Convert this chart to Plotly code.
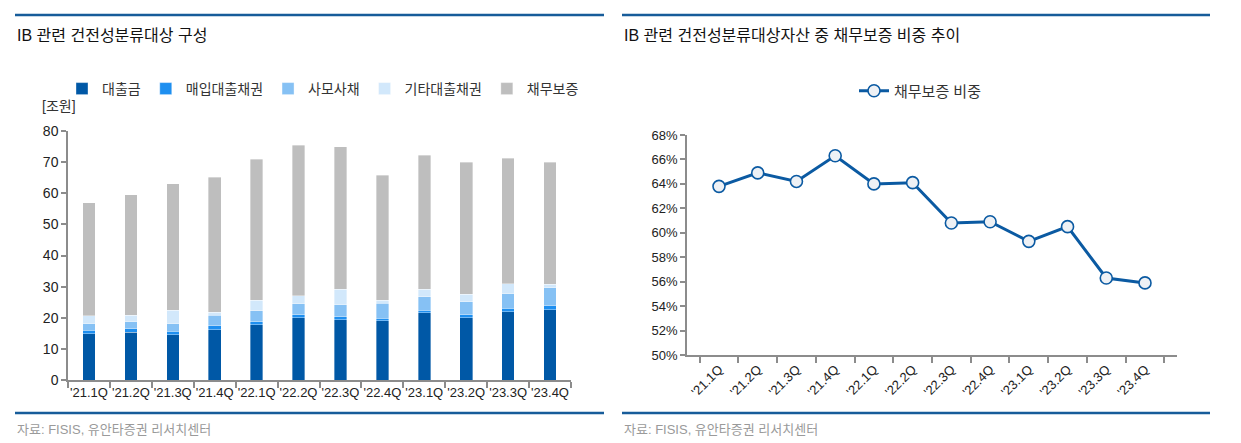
import plotly.graph_objects as go

W, H = 1241, 443
OX, OY = 8, 8          # default page body margin of the written html
FW, FH = W - 16, H - 8

quarters = ["'21.1Q", "'21.2Q", "'21.3Q", "'21.4Q", "'22.1Q", "'22.2Q",
            "'22.3Q", "'22.4Q", "'23.1Q", "'23.2Q", "'23.3Q", "'23.4Q"]

loans = [14.8, 15.4, 14.5, 16.1, 17.8, 20.0, 19.3, 19.0, 21.6, 20.0, 21.9, 22.5]
purchased = [1.2, 1.0, 1.2, 1.3, 0.9, 1.0, 1.0, 0.8, 0.8, 0.9, 1.1, 1.3]
private_bonds = [2.0, 2.3, 2.3, 3.4, 3.6, 3.5, 3.9, 4.8, 4.4, 4.2, 4.7, 5.9]
other_loans = [2.7, 2.1, 4.4, 1.0, 3.3, 2.5, 4.9, 1.0, 2.3, 2.5, 3.3, 1.0]
guarantees = [36.3, 38.7, 40.6, 43.4, 45.4, 48.5, 45.9, 40.2, 43.1, 42.4, 40.2, 39.3]

guarantee_share = [63.8, 64.9, 64.2, 66.3, 64.0, 64.1, 60.8, 60.9, 59.3, 60.5, 56.3, 55.9]

series = [
    ("대출금", loans, "#0058A6"),
    ("매입대출채권", purchased, "#1E8FF0"),
    ("사모사채", private_bonds, "#86C1F4"),
    ("기타대출채권", other_loans, "#D2E8FB"),
    ("채무보증", guarantees, "#BEBEBE"),
]

NUM_FONT = "Liberation Sans, Arial, Noto Sans CJK KR, sans-serif"
KR_FONT = "Liberation Sans, Noto Sans CJK KR, sans-serif"

fig = go.Figure()

for name, vals, color in series:
    fig.add_trace(go.Bar(
        x=quarters, y=vals, name=name,
        marker=dict(color=color, line=dict(color="rgba(255,255,255,0.6)", width=0.6)),
        xaxis="x", yaxis="y", legend="legend",
    ))

fig.add_trace(go.Scatter(
    x=quarters, y=guarantee_share, name="채무보증 비중",
    mode="lines+markers",
    line=dict(color="#0B5AA2", width=3),
    marker=dict(size=12, color="#EEF1F5", line=dict(color="#0B5AA2", width=1.6)),
    xaxis="x2", yaxis="y2", legend="legend2",
))

def px_x(v):
    return (v - OX) / FW

def px_y(v):
    return 1 - (v - OY) / FH

axis_color = "#8C8C8C"

fig.update_layout(
    width=FW, height=FH,
    margin=dict(l=0, r=0, t=0, b=0, autoexpand=False),
    paper_bgcolor="white", plot_bgcolor="white",
    barmode="stack", bargap=0.7,
    font=dict(family=NUM_FONT, color="#222222", size=14),
    xaxis=dict(
        domain=[px_x(68), px_x(571)], type="category", automargin=False,
        showline=True, linecolor=axis_color, linewidth=1.5,
        ticks="outside", tickson="boundaries", ticklen=6, tickcolor=axis_color, tickwidth=1.5,
        showgrid=False, tickangle=0,
        tickfont=dict(size=13, family=NUM_FONT, color="#222222"),
        anchor="y",
    ),
    yaxis=dict(
        domain=[px_y(380), px_y(131)], range=[0, 80], dtick=10, automargin=False,
        showline=True, linecolor=axis_color, linewidth=1.5,
        ticks="outside", ticklen=5, tickcolor=axis_color, tickwidth=1.5,
        showgrid=False, zeroline=False,
        tickfont=dict(size=14, family=NUM_FONT, color="#222222"),
        anchor="x",
    ),
    xaxis2=dict(
        domain=[px_x(687), px_x(1177)], type="category", automargin=False,
        showline=True, linecolor=axis_color, linewidth=1.5,
        ticks="outside", tickson="boundaries", ticklen=6, tickcolor=axis_color, tickwidth=1.5,
        showgrid=False, tickangle=-45,
        tickfont=dict(size=13, family=NUM_FONT, color="#222222"),
        anchor="y2",
    ),
    yaxis2=dict(
        domain=[px_y(355), px_y(135)], range=[50, 68], dtick=2, ticksuffix="%",
        automargin=False,
        showline=True, linecolor=axis_color, linewidth=1.5,
        ticks="outside", ticklen=5, tickcolor=axis_color, tickwidth=1.5,
        showgrid=False, zeroline=False,
        tickfont=dict(size=13, family=NUM_FONT, color="#222222"),
        anchor="x2",
    ),
    legend=dict(
        orientation="h", x=px_x(62), y=px_y(89), xanchor="left", yanchor="middle",
        font=dict(size=14, family=KR_FONT, color="#333333"),
        bgcolor="rgba(0,0,0,0)", itemwidth=30, traceorder="normal",
        itemclick=False,
    ),
    legend2=dict(
        orientation="h", x=px_x(920), y=px_y(91), xanchor="center", yanchor="middle",
        font=dict(size=15, family=KR_FONT, color="#333333"),
        bgcolor="rgba(0,0,0,0)",
    ),
    showlegend=True,
)

annotations = [
    dict(text="IB 관련 건전성분류대상 구성", x=px_x(15), y=px_y(35)),
    dict(text="IB 관련 건전성분류대상자산 중 채무보증 비중 추이", x=px_x(622), y=px_y(35)),
]
for a in annotations:
    fig.add_annotation(xref="paper", yref="paper", xanchor="left", yanchor="middle",
                       showarrow=False, text=a["text"], x=a["x"], y=a["y"],
                       font=dict(size=16, family=KR_FONT, color="#111111"))

fig.add_annotation(xref="paper", yref="paper", xanchor="left", yanchor="middle",
                   showarrow=False, text="[조원]", x=px_x(40), y=px_y(106),
                   font=dict(size=14, family=KR_FONT, color="#333333"))

for sx in (15, 622):
    fig.add_annotation(xref="paper", yref="paper", xanchor="left", yanchor="middle",
                       showarrow=False, text="자료: FISIS, 유안타증권 리서치센터",
                       x=px_x(sx), y=px_y(429),
                       font=dict(size=13, family=KR_FONT, color="#9A9A9A"))

line_color = "#175C9A"
for x0, x1 in ((15, 604), (622, 1210)):
    for yy in (15, 413):
        fig.add_shape(type="line", xref="paper", yref="paper",
                      x0=px_x(x0), x1=px_x(x1), y0=px_y(yy), y1=px_y(yy),
                      line=dict(color=line_color, width=2.5))

fig.write_html("out.html")
